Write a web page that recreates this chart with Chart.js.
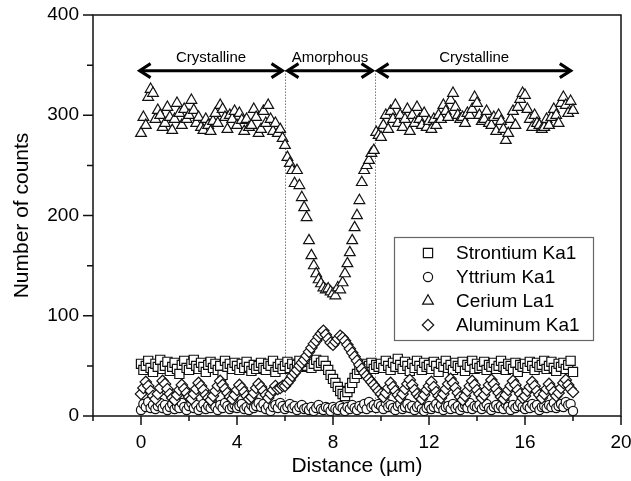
<!DOCTYPE html>
<html><head><meta charset="utf-8">
<script src="https://cdn.jsdelivr.net/npm/chart.js@4/dist/chart.umd.min.js"></script>
<style>html,body{margin:0;padding:0;background:#fff;}#wrap{width:631px;height:481px;}</style>
</head><body><div id="wrap"><canvas id="c" width="631" height="481"></canvas></div>
<script>
// Distance positions (µm)
const distance = [
0,0.1,0.2,0.3,0.4,0.5,0.6,0.7,0.8,0.9,
1,1.1,1.2,1.3,1.4,1.5,1.6,1.7,1.8,1.9,
2,2.1,2.2,2.3,2.4,2.5,2.6,2.7,2.8,2.9,
3,3.1,3.2,3.3,3.4,3.5,3.6,3.7,3.8,3.9,
4,4.1,4.2,4.3,4.4,4.5,4.6,4.7,4.8,4.9,
5,5.1,5.2,5.3,5.4,5.5,5.6,5.7,5.8,5.9,
6,6.1,6.2,6.3,6.4,6.5,6.6,6.7,6.8,6.9,
7,7.1,7.2,7.3,7.4,7.5,7.6,7.7,7.8,7.9,
8,8.1,8.2,8.3,8.4,8.5,8.6,8.7,8.8,8.9,
9,9.1,9.2,9.3,9.4,9.5,9.6,9.7,9.8,9.9,
10,10.1,10.2,10.3,10.4,10.5,10.6,10.7,10.8,10.9,
11,11.1,11.2,11.3,11.4,11.5,11.6,11.7,11.8,11.9,
12,12.1,12.2,12.3,12.4,12.5,12.6,12.7,12.8,12.9,
13,13.1,13.2,13.3,13.4,13.5,13.6,13.7,13.8,13.9,
14,14.1,14.2,14.3,14.4,14.5,14.6,14.7,14.8,14.9,
15,15.1,15.2,15.3,15.4,15.5,15.6,15.7,15.8,15.9,
16,16.1,16.2,16.3,16.4,16.5,16.6,16.7,16.8,16.9,
17,17.1,17.2,17.3,17.4,17.5,17.6,17.7,17.8,17.9,
18];

const strontium = [
52,46,50,55,48,44,52,49,56,47,
50,54,45,49,53,47,42,51,55,48,
46,52,56,50,47,53,49,44,51,54,
48,52,46,50,41,55,49,52,47,53,
50,46,52,48,54,49,45,51,47,50,
53,48,46,52,50,55,44,49,52,47,
50,54,48,52,47,51,55,49,53,50,
54,48,52,56,50,53,55,50,46,41,
37,33,29,25,22,20,24,28,33,38,
42,46,49,52,48,50,53,47,51,49,
52,48,55,50,46,53,49,57,51,47,
54,50,45,52,48,55,50,46,53,49,
51,47,54,50,44,52,49,55,48,51,
46,53,50,48,54,45,51,49,55,47,
52,48,50,54,46,51,49,53,47,50,
55,49,46,52,50,47,53,44,51,49,
52,48,54,50,46,53,49,51,55,47,
50,54,48,45,52,49,53,47,51,55,
44];

const yttrium = [
6,12,9,14,8,11,7,10,13,8,
11,6,9,12,7,10,8,13,9,6,
10,13,8,11,6,9,12,7,10,8,
12,9,6,11,8,13,10,7,9,11,
8,10,12,7,9,6,11,8,10,13,
9,12,7,10,5,9,11,8,13,10,
7,9,12,8,10,6,9,11,7,8,
6,9,5,8,11,7,6,9,8,5,
9,7,6,10,8,5,9,7,11,8,
6,10,8,12,7,14,9,11,8,12,
10,7,13,9,11,8,6,10,12,7,
9,12,8,10,6,9,11,7,5,8,
10,7,9,12,8,11,6,9,10,7,
12,8,10,6,9,11,8,13,7,10,
9,11,7,10,12,8,6,9,11,8,
10,7,12,9,6,11,8,10,13,9,
7,10,8,12,9,11,6,9,10,8,
11,9,13,8,10,12,9,14,11,12,
5];

const cerium = [
282,298,290,318,326,322,296,305,300,288,
292,308,298,285,296,312,302,290,306,296,
300,315,305,292,298,288,285,296,290,284,
294,302,292,310,306,298,286,300,296,304,
290,302,295,284,296,288,290,306,298,282,
286,304,292,310,296,284,292,282,286,277,
270,258,252,245,232,245,230,218,208,198,
175,160,150,142,136,132,128,126,127,124,
122,120,128,126,133,142,152,163,175,188,
200,215,233,245,250,255,262,265,283,280,
278,290,300,286,304,296,310,292,300,288,
296,306,284,300,292,308,296,290,302,288,
294,286,296,290,300,296,310,304,298,315,
322,308,300,296,298,292,302,300,306,318,
312,300,294,296,304,292,290,298,284,300,
294,286,275,282,296,304,290,308,316,322,
320,306,296,288,300,292,290,286,288,296,
290,298,306,300,292,312,318,310,302,314,
305];

const aluminum = [
22,28,34,30,25,20,17,22,28,35,
32,27,22,18,16,21,26,31,27,23,
19,17,22,27,33,30,26,21,18,16,
20,25,30,35,31,27,23,19,17,21,
26,31,28,24,20,17,19,23,28,32,
29,25,21,18,22,26,30,27,28,30,
30,33,36,40,43,46,50,53,56,60,
64,68,72,75,79,82,85,81,77,73,
71,74,77,80,78,75,71,67,63,59,
55,51,47,43,40,37,34,31,28,25,
22,19,23,28,33,29,25,21,18,22,
27,32,36,31,26,22,19,17,21,26,
30,34,29,24,20,18,22,27,32,37,
33,28,23,19,16,20,25,30,35,31,
26,22,18,21,26,31,36,32,27,23,
19,17,21,26,30,35,31,26,22,18,
20,25,29,34,30,25,21,18,22,27,
32,28,24,20,23,28,33,36,31,27,
24];

const seriesNames = ['Strontium Ka1','Yttrium Ka1','Cerium La1','Aluminum Ka1'];
const seriesShapes = ['rect','circle','triangle','rectRot'];
const zoneStart = [-0.1, 6, 9.75];
const zoneEnd = [6, 9.75, 17.95];
const zoneLabels = ['Crystalline','Amorphous','Crystalline'];
const boundaries = [6, 9.75];
const arrowLevel = 344.5;

const FONT = "'Liberation Sans', Arial, Helvetica, sans-serif";
const radii = {rect:6.5, circle:4.6, triangle:6.2, rectRot:5.7};
const seriesValues = [strontium, yttrium, cerium, aluminum];

const datasets = seriesValues.map((vals, i) => ({
  label: seriesNames[i],
  data: distance.map((d, k) => ({x: d, y: vals[k]})),
  showLine: false,
  pointStyle: seriesShapes[i],
  pointRadius: radii[seriesShapes[i]],
  pointHoverRadius: radii[seriesShapes[i]],
  pointBackgroundColor: '#fff',
  pointBorderColor: '#111',
  pointBorderWidth: 1.2,
  order: 4 - i
}));

function shape(ctx, style, x, y, r) {
  ctx.beginPath();
  if (style === 'rect') { const s = 2 * r * Math.SQRT1_2; ctx.rect(x - s/2, y - s/2, s, s); }
  else if (style === 'circle') { ctx.arc(x, y, r, 0, Math.PI * 2); }
  else if (style === 'triangle') {
    ctx.moveTo(x, y - r); ctx.lineTo(x + 0.866 * r, y + 0.5 * r); ctx.lineTo(x - 0.866 * r, y + 0.5 * r); ctx.closePath();
  } else { ctx.moveTo(x, y - r); ctx.lineTo(x + r, y); ctx.lineTo(x, y + r); ctx.lineTo(x - r, y); ctx.closePath(); }
  ctx.fillStyle = '#fff'; ctx.fill();
  ctx.strokeStyle = '#111'; ctx.lineWidth = 1.2; ctx.stroke();
}

const deco = {
  id: 'deco',
  beforeDatasetsDraw(chart) {
    const {ctx, chartArea: a, scales: {x, y}} = chart;
    ctx.save();
    ctx.strokeStyle = '#333'; ctx.lineWidth = 1; ctx.setLineDash([1, 2]);
    boundaries.forEach(b => {
      const px = Math.round(x.getPixelForValue(b)) + 0.5;
      ctx.beginPath(); ctx.moveTo(px, y.getPixelForValue(arrowLevel)); ctx.lineTo(px, a.bottom); ctx.stroke();
    });
    ctx.restore();
  },
  afterDatasetsDraw(chart) {
    const {ctx, chartArea: a, scales: {x, y}} = chart;
    ctx.save();
    ctx.strokeStyle = '#111'; ctx.lineWidth = 1.5;
    ctx.strokeRect(a.left, a.top, a.right - a.left, a.bottom - a.top);
    ctx.beginPath();
    for (let v = x.min; v <= x.max; v += 2) {
      const px = x.getPixelForValue(v); const len = (v % 4 === 0) ? 9 : 5;
      ctx.moveTo(px, a.bottom); ctx.lineTo(px, a.bottom + len);
    }
    for (let v = y.min; v <= y.max; v += 50) {
      const py = y.getPixelForValue(v); const len = (v % 100 === 0) ? 10 : 6;
      ctx.moveTo(a.left, py); ctx.lineTo(a.left - len, py);
    }
    ctx.stroke();
    const ay = y.getPixelForValue(arrowLevel);
    ctx.strokeStyle = '#000'; ctx.lineWidth = 3; ctx.lineJoin = 'miter'; ctx.lineCap = 'butt';
    zoneStart.forEach((s, i) => {
      const x1 = x.getPixelForValue(s) + (i > 0 ? 1.5 : 0);
      const x2 = x.getPixelForValue(zoneEnd[i]) - (i < zoneStart.length - 1 ? 1.5 : 0);
      ctx.beginPath(); ctx.moveTo(x1 + 2, ay); ctx.lineTo(x2 - 2, ay); ctx.stroke();
      ctx.beginPath(); ctx.moveTo(x1 + 12, ay - 7); ctx.lineTo(x1 + 1, ay); ctx.lineTo(x1 + 12, ay + 7); ctx.stroke();
      ctx.beginPath(); ctx.moveTo(x2 - 12, ay - 7); ctx.lineTo(x2 - 1, ay); ctx.lineTo(x2 - 12, ay + 7); ctx.stroke();
      ctx.fillStyle = '#000'; ctx.font = '15px ' + FONT; ctx.textAlign = 'center'; ctx.textBaseline = 'middle';
      ctx.fillText(zoneLabels[i], (x1 + x2) / 2, ay - 13);
    });
    const L = {left: 394.5, top: 237.5, right: 593.5, bottom: 340.5, markX: 428, textX: 456, row0: 253, step: 24};
    ctx.fillStyle = '#fff'; ctx.fillRect(L.left, L.top, L.right - L.left, L.bottom - L.top);
    ctx.strokeStyle = '#666'; ctx.lineWidth = 1.2; ctx.strokeRect(L.left, L.top, L.right - L.left, L.bottom - L.top);
    seriesNames.forEach((n, i) => {
      const ry = L.row0 + i * L.step;
      shape(ctx, seriesShapes[i], L.markX, ry, radii[seriesShapes[i]]);
      ctx.fillStyle = '#000'; ctx.font = '19px ' + FONT; ctx.textAlign = 'left'; ctx.textBaseline = 'middle';
      ctx.fillText(n, L.textX, ry + 1);
    });
    ctx.restore();
  }
};

new Chart(document.getElementById('c'), {
  type: 'scatter',
  data: {datasets},
  options: {
    responsive: false, animation: false, devicePixelRatio: 1,
    layout: {padding: {top: 15, right: 10, left: 0, bottom: 0}},
    plugins: {legend: {display: false}, tooltip: {enabled: false}},
    scales: {
      x: {
        type: 'linear', min: -2, max: 20,
        grid: {display: false}, border: {display: false},
        ticks: {stepSize: 2, autoSkip: false, maxRotation: 0, padding: 7, color: '#000',
          font: {family: FONT, size: 19},
          callback: v => (v % 4 === 0 && v >= 0) ? String(v) : ''},
        title: {display: true, text: 'Distance (µm)', color: '#000', font: {family: FONT, size: 21}, padding: {top: 0, bottom: 2}},
        afterFit: s => { s.height = 65; s.paddingLeft = 0; s.paddingRight = 0; }
      },
      y: {
        type: 'linear', min: 0, max: 400,
        grid: {display: false}, border: {display: false},
        ticks: {stepSize: 50, padding: 6, color: '#000', font: {family: FONT, size: 19},
          callback: v => (v % 100 === 0) ? String(v) : ''},
        title: {display: true, text: 'Number of counts', color: '#000', font: {family: FONT, size: 21}, padding: {top: 10, bottom: 0}},
        afterFit: s => { s.width = 93; s.paddingTop = 0; s.paddingBottom = 0; }
      }
    }
  },
  plugins: [deco]
});
</script></body></html>
